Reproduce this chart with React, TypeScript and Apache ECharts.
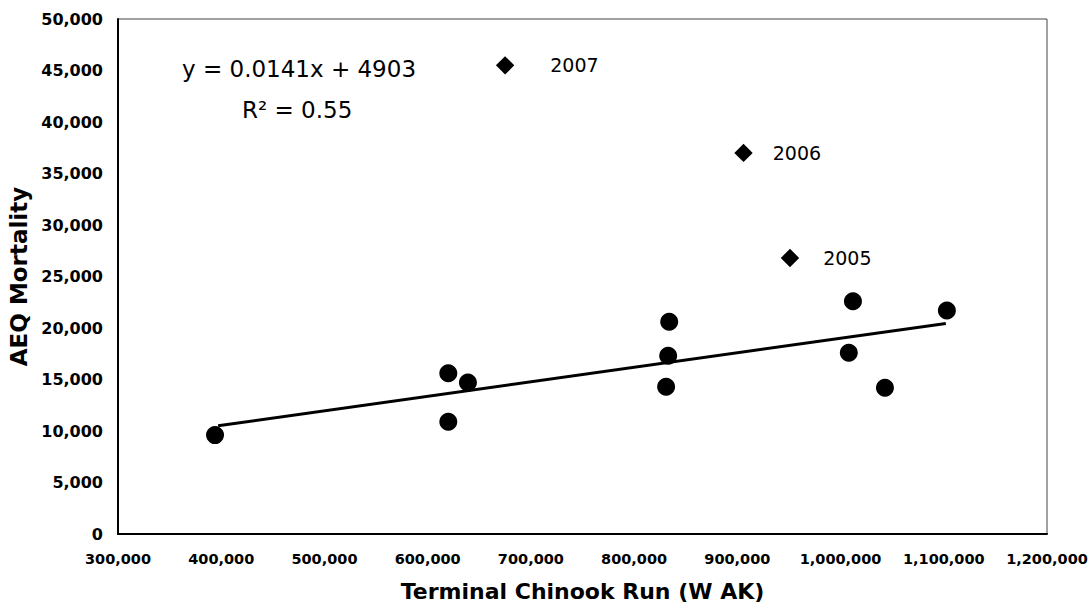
import React, { useEffect, useRef } from "react";
import * as echarts from "echarts";

// Regular years (circles)
const runValues: number[] = [394000, 620000, 639000, 620000, 834000, 833000, 831000, 1012000, 1008000, 1043000, 1103000];
const mortalityValues: number[] = [9600, 15600, 14700, 10900, 20600, 17300, 14300, 22600, 17600, 14200, 21700];

// Highlighted years (diamonds)
const highlightYears: string[] = ["2005", "2006", "2007"];
const highlightRun: number[] = [951000, 906000, 675000];
const highlightMortality: number[] = [26800, 37000, 45500];
const labelGaps: number[] = [24, 20, 36];

// Linear trend line endpoints (y = 0.0141x + 4903)
const trendRun: number[] = [397000, 1102000];
const trendMortality: number[] = [10500, 20440];

const xTicks = { min: 300000, max: 1200000, interval: 100000 };
const yTicks = { min: 0, max: 50000, interval: 5000 };

const equationText = "y = 0.0141x + 4903";
const r2Text = "R² = 0.55";
const xTitle = "Terminal Chinook Run (W AK)";
const yTitle = "AEQ Mortality";

const fmt = (v: number) => v.toLocaleString("en-US");
const FONT = "DejaVu Sans";

export default function App() {
  const ref = useRef<HTMLDivElement>(null);
  useEffect(() => {
    if (!ref.current) return;
    const chart = echarts.init(ref.current, undefined, { renderer: "svg" });
    chart.setOption({
      animation: false,
      backgroundColor: "#ffffff",
      grid: {
        left: 118,
        right: 44,
        top: 19,
        bottom: 70,
        containLabel: false,
        outerBoundsMode: "none",
        show: true,
        borderColor: "#444",
        borderWidth: 1,
      },
      xAxis: {
        type: "value",
        min: xTicks.min,
        max: xTicks.max,
        interval: xTicks.interval,
        splitLine: { show: false },
        axisLine: { show: true, onZero: false, lineStyle: { color: "#000", width: 2 } },
        axisTick: { show: false },
        axisLabel: { color: "#000", fontFamily: FONT, fontWeight: "bold", fontSize: 14.5, margin: 17, formatter: fmt },
        name: xTitle,
        nameLocation: "middle",
        nameGap: 45,
        nameTextStyle: { color: "#000", fontFamily: FONT, fontWeight: "bold", fontSize: 22, lineHeight: 24 },
      },
      yAxis: {
        type: "value",
        min: yTicks.min,
        max: yTicks.max,
        interval: yTicks.interval,
        splitLine: { show: false },
        axisLine: { show: true, lineStyle: { color: "#000", width: 2 } },
        axisTick: { show: false },
        axisLabel: { color: "#000", fontFamily: FONT, fontWeight: "bold", fontSize: 16, margin: 15, formatter: fmt },
        name: yTitle,
        nameLocation: "middle",
        nameGap: 88,
        nameTextStyle: { color: "#000", fontFamily: FONT, fontWeight: "bold", fontSize: 23 },
      },
      series: [
        {
          type: "line",
          data: trendRun.map((x, i) => [x, trendMortality[i]]),
          showSymbol: false,
          symbol: "none",
          lineStyle: { color: "#000", width: 3 },
          z: 2,
        },
        {
          type: "scatter",
          data: runValues.map((x, i) => [x, mortalityValues[i]]),
          symbol: "circle",
          symbolSize: 18,
          itemStyle: { color: "#000", opacity: 1 },
          z: 3,
        },
        {
          type: "scatter",
          data: highlightRun.map((x, i) => ({
            value: [x, highlightMortality[i]],
            name: highlightYears[i],
            label: { distance: labelGaps[i] },
          })),
          symbol: "rect",
          symbolRotate: 45,
          symbolSize: 13,
          itemStyle: { color: "#000", opacity: 1 },
          label: {
            show: true,
            position: "right",
            formatter: (p: any) => p.name,
            color: "#000",
            fontFamily: FONT,
            fontSize: 19,
          },
          z: 3,
        },
      ],
      graphic: [
        {
          type: "text",
          left: 182,
          top: 57,
          style: { text: equationText, fill: "#000", font: `23px "${FONT}"` },
        },
        {
          type: "text",
          left: 242,
          top: 98,
          style: { text: r2Text, fill: "#000", font: `23px "${FONT}"` },
        },
      ],
    });
    return () => chart.dispose();
  }, []);
  return <div ref={ref} style={{ width: 1091, height: 604, position: "absolute", left: 0, top: 0 }} />;
}
